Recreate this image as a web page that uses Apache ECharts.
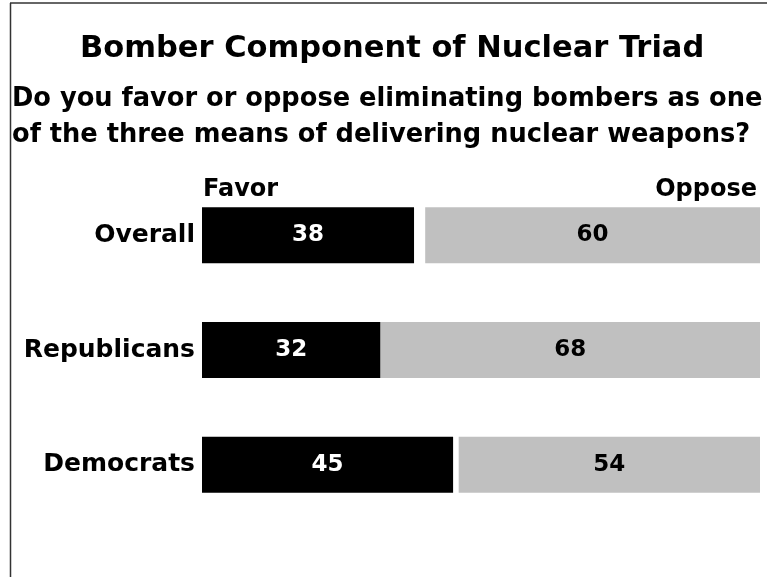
<!DOCTYPE html>
<html>
<head>
<meta charset="utf-8">
<script src="https://cdn.jsdelivr.net/npm/echarts@6/dist/echarts.min.js"></script>
<style>
  html, body { margin: 0; padding: 0; background: #fff; }
  #chart { width: 767px; height: 577px; }
</style>
</head>
<body>
<div id="chart"></div>
<script>
// data
const groups = ["Overall", "Republicans", "Democrats"];
const favor = [38, 32, 45];
const oppose = [60, 68, 54];
// the grey bars end at 100, the rest ("no answer") is a blank gap
const gap = favor.map((f, i) => 100 - f - oppose[i]);

const chart = echarts.init(document.getElementById("chart"), null, { renderer: "canvas" });

const font = "DejaVu Sans";

chart.setOption({
  animation: false,
  backgroundColor: "#fff",
  textStyle: { fontFamily: font },
  title: [
    {
      text: "Bomber Component of Nuclear Triad",
      left: 80,
      top: 34,
      padding: 0,
      textStyle: { fontSize: 30.5, fontWeight: "bold", color: "#000", fontFamily: font }
    },
    {
      text: "Do you favor or oppose eliminating bombers as one\nof the three means of delivering nuclear weapons?",
      left: 12,
      top: 81,
      padding: 0,
      textStyle: { fontSize: 25.7, fontWeight: "bold", color: "#000", lineHeight: 36, fontFamily: font }
    },
    {
      text: "Favor",
      left: 203,
      top: 178,
      padding: 0,
      textStyle: { fontSize: 24, fontWeight: "bold", color: "#000", fontFamily: font }
    },
    {
      text: "Oppose",
      right: 10,
      top: 178,
      padding: 0,
      textStyle: { fontSize: 24, fontWeight: "bold", color: "#000", fontFamily: font }
    }
  ],
  graphic: [
    // frame on the left and top
    { type: "line", shape: { x1: 10.5, y1: 3, x2: 10.5, y2: 577 }, style: { stroke: "#333", lineWidth: 1.5 } },
    { type: "line", shape: { x1: 10, y1: 3, x2: 767, y2: 3 }, style: { stroke: "#333", lineWidth: 1.5 } }
  ],
  grid: { left: 202, right: 7, top: 178, height: 344, containLabel: false },
  xAxis: {
    type: "value",
    min: 0,
    max: 100,
    show: false
  },
  yAxis: {
    type: "category",
    data: groups,
    inverse: true,
    axisLine: { show: false },
    axisTick: { show: false },
    axisLabel: {
      margin: 7,
      fontSize: 25,
      fontWeight: "bold",
      color: "#000",
      fontFamily: font
    }
  },
  series: [
    {
      name: "Favor",
      type: "bar",
      stack: "all",
      barWidth: 56,
      data: favor,
      itemStyle: { color: "#000" },
      label: { show: true, position: "inside", color: "#fff", fontSize: 23, fontWeight: "bold", fontFamily: font }
    },
    {
      name: "gap",
      type: "bar",
      stack: "all",
      barWidth: 56,
      data: gap,
      silent: true,
      itemStyle: { color: "rgba(0,0,0,0)" }
    },
    {
      name: "Oppose",
      type: "bar",
      stack: "all",
      barWidth: 56,
      data: oppose,
      itemStyle: { color: "#c0c0c0" },
      label: { show: true, position: "inside", color: "#000", fontSize: 23, fontWeight: "bold", fontFamily: font }
    }
  ]
});
</script>
</body>
</html>
